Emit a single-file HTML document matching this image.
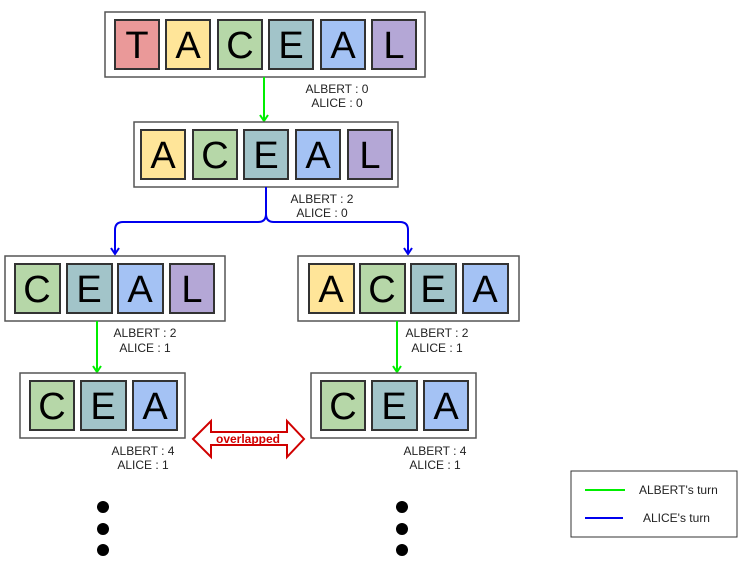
<!DOCTYPE html>
<html><head><style>
html,body{margin:0;padding:0;background:#fff;}
svg{display:block;}
.t{font-family:"Liberation Sans",Arial,sans-serif;font-size:38px;fill:#000;text-anchor:middle;}
.l{font-family:"Liberation Sans",Arial,sans-serif;font-size:12px;fill:#222;text-anchor:middle;}
.box{fill:#fff;stroke:#555;stroke-width:1.5;}
.tile{stroke:#333;stroke-width:2;}
</style></head><body>
<svg width="743" height="566" viewBox="0 0 743 566" xmlns="http://www.w3.org/2000/svg">
<defs>
<marker id="ag" markerWidth="10" markerHeight="10" refX="8" refY="5" orient="auto" markerUnits="userSpaceOnUse" viewBox="0 0 10 10"><path d="M2,1 L8,5 L2,9" fill="none" stroke="#00ee00" stroke-width="2"/></marker>
<marker id="ab" markerWidth="10" markerHeight="10" refX="8" refY="5" orient="auto" markerUnits="userSpaceOnUse" viewBox="0 0 10 10"><path d="M2,1 L8,5 L2,9" fill="none" stroke="#0000ee" stroke-width="2"/></marker>
</defs>

<rect class="box" x="105" y="12" width="320" height="65"/>
<rect class="tile" x="115" y="20" width="44" height="49" fill="#ea9999"/><text class="t" x="137" y="58">T</text>
<rect class="tile" x="166" y="20" width="44" height="49" fill="#ffe599"/><text class="t" x="188" y="58">A</text>
<rect class="tile" x="218" y="20" width="44" height="49" fill="#b6d7a8"/><text class="t" x="240" y="58">C</text>
<rect class="tile" x="269" y="20" width="44" height="49" fill="#a2c4c9"/><text class="t" x="291" y="58">E</text>
<rect class="tile" x="321" y="20" width="44" height="49" fill="#a4c2f4"/><text class="t" x="343" y="58">A</text>
<rect class="tile" x="372" y="20" width="44" height="49" fill="#b4a7d6"/><text class="t" x="394" y="58">L</text>

<line x1="264" y1="77" x2="264" y2="121" stroke="#00ee00" stroke-width="2" marker-end="url(#ag)"/>
<text class="l" x="337" y="93">ALBERT : 0</text>
<text class="l" x="337" y="107">ALICE : 0</text>

<rect class="box" x="134" y="122" width="264" height="65"/>
<rect class="tile" x="141" y="130" width="44" height="49" fill="#ffe599"/><text class="t" x="163" y="168">A</text>
<rect class="tile" x="193" y="130" width="44" height="49" fill="#b6d7a8"/><text class="t" x="215" y="168">C</text>
<rect class="tile" x="244" y="130" width="44" height="49" fill="#a2c4c9"/><text class="t" x="266" y="168">E</text>
<rect class="tile" x="296" y="130" width="44" height="49" fill="#a4c2f4"/><text class="t" x="318" y="168">A</text>
<rect class="tile" x="348" y="130" width="44" height="49" fill="#b4a7d6"/><text class="t" x="370" y="168">L</text>

<path d="M266,187 L266,214 Q266,222 258,222 L123,222 Q115,222 115,230 L115,254" fill="none" stroke="#0000ee" stroke-width="2" marker-end="url(#ab)"/>
<path d="M266,214 Q266,222 274,222 L400,222 Q408,222 408,230 L408,254" fill="none" stroke="#0000ee" stroke-width="2" marker-end="url(#ab)"/>
<text class="l" x="322" y="203">ALBERT : 2</text>
<text class="l" x="322" y="217">ALICE : 0</text>

<rect class="box" x="5" y="256" width="220" height="65"/>
<rect class="tile" x="15" y="264" width="45" height="49" fill="#b6d7a8"/><text class="t" x="37" y="302">C</text>
<rect class="tile" x="67" y="264" width="45" height="49" fill="#a2c4c9"/><text class="t" x="89" y="302">E</text>
<rect class="tile" x="118" y="264" width="45" height="49" fill="#a4c2f4"/><text class="t" x="140" y="302">A</text>
<rect class="tile" x="170" y="264" width="44" height="49" fill="#b4a7d6"/><text class="t" x="192" y="302">L</text>

<rect class="box" x="298" y="256" width="221" height="65"/>
<rect class="tile" x="309" y="264" width="45" height="49" fill="#ffe599"/><text class="t" x="331" y="302">A</text>
<rect class="tile" x="360" y="264" width="45" height="49" fill="#b6d7a8"/><text class="t" x="382" y="302">C</text>
<rect class="tile" x="411" y="264" width="45" height="49" fill="#a2c4c9"/><text class="t" x="433" y="302">E</text>
<rect class="tile" x="463" y="264" width="45" height="49" fill="#a4c2f4"/><text class="t" x="485" y="302">A</text>

<line x1="97" y1="321" x2="97" y2="372" stroke="#00ee00" stroke-width="2" marker-end="url(#ag)"/>
<line x1="397" y1="321" x2="397" y2="372" stroke="#00ee00" stroke-width="2" marker-end="url(#ag)"/>
<text class="l" x="145" y="337">ALBERT : 2</text>
<text class="l" x="145" y="352">ALICE : 1</text>
<text class="l" x="437" y="337">ALBERT : 2</text>
<text class="l" x="437" y="352">ALICE : 1</text>

<rect class="box" x="20" y="373" width="165" height="65"/>
<rect class="tile" x="30" y="381" width="44" height="49" fill="#b6d7a8"/><text class="t" x="52" y="419">C</text>
<rect class="tile" x="81" y="381" width="45" height="49" fill="#a2c4c9"/><text class="t" x="103" y="419">E</text>
<rect class="tile" x="133" y="381" width="44" height="49" fill="#a4c2f4"/><text class="t" x="155" y="419">A</text>

<rect class="box" x="311" y="373" width="165" height="65"/>
<rect class="tile" x="321" y="381" width="44" height="49" fill="#b6d7a8"/><text class="t" x="343" y="419">C</text>
<rect class="tile" x="372" y="381" width="45" height="49" fill="#a2c4c9"/><text class="t" x="394" y="419">E</text>
<rect class="tile" x="424" y="381" width="44" height="49" fill="#a4c2f4"/><text class="t" x="446" y="419">A</text>

<text class="l" x="143" y="455">ALBERT : 4</text>
<text class="l" x="143" y="469">ALICE : 1</text>
<text class="l" x="435" y="455">ALBERT : 4</text>
<text class="l" x="435" y="469">ALICE : 1</text>

<path d="M193,439 L211,421 L211,432 L287,432 L287,421 L304,439 L287,457 L287,445 L211,445 L211,457 Z" fill="#fff" stroke="#d00000" stroke-width="2"/>
<text x="248" y="443" font-family="Liberation Sans,Arial,sans-serif" font-size="12" font-weight="bold" fill="#d00000" text-anchor="middle">overlapped</text>

<circle cx="103" cy="507" r="6" fill="#000"/>
<circle cx="103" cy="529" r="6" fill="#000"/>
<circle cx="103" cy="550" r="6" fill="#000"/>
<circle cx="402" cy="507" r="6" fill="#000"/>
<circle cx="402" cy="529" r="6" fill="#000"/>
<circle cx="402" cy="550" r="6" fill="#000"/>

<rect x="571" y="471" width="166" height="66" fill="#fff" stroke="#333" stroke-width="1"/>
<line x1="585" y1="490" x2="625" y2="490" stroke="#00ee00" stroke-width="2"/>
<line x1="585" y1="518" x2="623" y2="518" stroke="#0000ee" stroke-width="2"/>
<text x="639" y="494" font-family="Liberation Sans,Arial,sans-serif" font-size="12" fill="#222">ALBERT's turn</text>
<text x="643" y="522" font-family="Liberation Sans,Arial,sans-serif" font-size="12" fill="#222">ALICE's turn</text>
</svg>
</body></html>
